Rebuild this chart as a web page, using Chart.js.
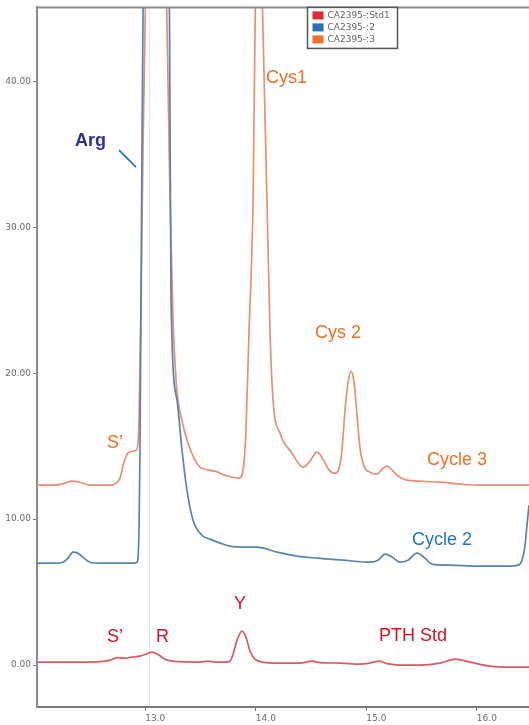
<!DOCTYPE html>
<html>
<head>
<meta charset="utf-8">
<script src="https://cdn.jsdelivr.net/npm/chart.js@4.4.1/dist/chart.umd.min.js"></script>
<style>
  html, body { margin: 0; padding: 0; background: #ffffff; }
  canvas { display: block; }
</style>
</head>
<body>
<canvas id="chrom" width="529" height="725"></canvas>
<script>
// Retention time (min) and detector signal for each run
const stdTime = [12.020, 12.228, 12.409, 12.590, 12.681, 12.753, 12.816, 12.880, 12.952, 13.006,
  13.061, 13.115, 13.178, 13.242, 13.314, 13.495, 13.567, 13.631, 13.721, 13.767,
  13.794, 13.830, 13.875, 13.911, 13.947, 13.993, 14.056, 14.219, 14.400, 14.509,
  14.581, 14.762, 14.943, 15.033, 15.115, 15.187, 15.305, 15.486, 15.667, 15.803,
  15.938, 16.119, 16.300, 16.472];
const stdSignal = [0.21, 0.21, 0.21, 0.24, 0.34, 0.51, 0.48, 0.55, 0.62, 0.75,
  0.89, 0.72, 0.41, 0.27, 0.24, 0.21, 0.27, 0.21, 0.21, 0.27,
  0.75, 1.71, 2.33, 1.92, 0.96, 0.41, 0.21, 0.14, 0.14, 0.27,
  0.17, 0.14, 0.07, 0.14, 0.27, 0.10, 0.00, 0.00, 0.14, 0.41,
  0.21, -0.07, -0.14, -0.14];

const cycle2Time = [12.020, 12.183, 12.255, 12.300, 12.346, 12.391, 12.445, 12.500, 12.590, 12.771,
  12.889, 12.925, 12.943, 12.952, 12.961, 12.970, 12.979, 12.993, 13.097, 13.201,
  13.219, 13.233, 13.287, 13.332, 13.377, 13.432, 13.513, 13.586, 13.676, 13.767,
  13.902, 14.011, 14.192, 14.373, 14.554, 14.789, 15.033, 15.106, 15.169, 15.233,
  15.305, 15.377, 15.459, 15.531, 15.594, 15.757, 16.029, 16.300, 16.373, 16.409,
  16.436, 16.454, 16.472];
const cycle2Signal = [6.99, 6.99, 7.05, 7.33, 7.74, 7.67, 7.33, 7.05, 6.99, 6.99,
  6.99, 7.05, 9.25, 14.73, 25.00, 35.27, 44.18, 50.0, 56.0, 50.0,
  44.18, 25.00, 18.15, 14.73, 11.99, 9.93, 8.90, 8.63, 8.36, 8.15,
  8.08, 8.08, 7.74, 7.47, 7.33, 7.19, 7.05, 7.19, 7.60, 7.40,
  7.05, 7.19, 7.67, 7.33, 6.92, 6.85, 6.78, 6.78, 6.85, 7.19,
  8.22, 9.59, 10.96];

const cycle3Time = [12.020, 12.183, 12.273, 12.337, 12.409, 12.500, 12.681, 12.735, 12.771, 12.807,
  12.843, 12.889, 12.925, 12.943, 12.961, 12.979, 12.997, 13.015, 13.097, 13.178,
  13.196, 13.224, 13.251, 13.278, 13.296, 13.341, 13.386, 13.441, 13.495, 13.631,
  13.721, 13.850, 13.884, 13.911, 13.938, 13.975, 13.993, 14.029, 14.065, 14.101,
  14.129, 14.156, 14.219, 14.328, 14.427, 14.490, 14.554, 14.608, 14.663, 14.717,
  14.753, 14.780, 14.807, 14.835, 14.862, 14.889, 14.916, 14.943, 14.979, 15.033,
  15.097, 15.142, 15.187, 15.233, 15.278, 15.368, 15.486, 15.667, 15.848, 16.029,
  16.210, 16.472];
const cycle3Signal = [12.33, 12.33, 12.47, 12.60, 12.53, 12.33, 12.33, 12.47, 12.81, 13.90,
  14.52, 14.66, 14.79, 16.78, 25.00, 35.27, 43.49, 50.0, 58.0, 50.0,
  44.18, 31.85, 23.63, 19.52, 18.15, 16.44, 15.21, 14.18, 13.56, 13.29,
  13.01, 12.81, 13.36, 16.10, 22.74, 31.85, 43.49, 55.0, 43.49, 31.85,
  22.74, 18.15, 15.89, 14.52, 13.56, 13.97, 14.59, 14.11, 13.36, 13.15,
  13.49, 14.73, 17.47, 19.38, 20.14, 19.38, 17.12, 14.86, 13.63, 13.22,
  13.08, 13.42, 13.63, 13.36, 13.01, 12.67, 12.60, 12.53, 12.40, 12.33,
  12.33, 12.33];

const seriesLabels = ['CA2395-:Std1', 'CA2395-:2', 'CA2395-:3'];
const xTicks = [13, 14, 15, 16];
const yTicks = [0, 10, 20, 30, 40];
const markerTime = 13.035;

// Peak and trace annotations: text, retention time, signal (left/baseline anchor)
const peakNotes = [
  { text: 'Arg',     x: 12.364, y: 35.56, color: '#2e3192', bold: true },
  { text: 'Cys1',    x: 14.092, y: 39.86, color: '#f36f21' },
  { text: 'Cys 2',   x: 14.536, y: 22.43, color: '#f36f21' },
  { text: 'S\u2019', x: 12.653, y: 14.84, color: '#f36f21' },
  { text: 'Cycle 3', x: 15.549, y: 13.68, color: '#f36f21' },
  { text: 'Cycle 2', x: 15.413, y: 8.21,  color: '#1e73d2' },
  { text: 'S\u2019', x: 12.653, y: 1.57,  color: '#d2141b' },
  { text: 'R',       x: 13.097, y: 1.57,  color: '#d2141b' },
  { text: 'Y',       x: 13.803, y: 3.83,  color: '#d2141b' },
  { text: 'PTH Std', x: 15.115, y: 1.64,  color: '#d2141b' }
];
// Pointer from the Arg label toward its peak
const argPointer = { x1: 12.762, y1: 35.28, x2: 12.916, y2: 34.12, color: '#1f6fc5' };

const lineColors = ['rgb(214,92,96)', 'rgb(90,131,178)', 'rgb(234,142,112)'];
const swatchColors = ['#e02b2b', '#2f6cb6', '#f0702c'];

function points(xs, ys) {
  return xs.map((x, i) => ({ x: x, y: ys[i] }));
}

const traces = [[stdTime, stdSignal], [cycle2Time, cycle2Signal], [cycle3Time, cycle3Signal]];

const datasets = traces.map((t, i) => ({
  label: seriesLabels[i],
  data: points(t[0], t[1]),
  borderColor: lineColors[i],
  backgroundColor: swatchColors[i],
  borderWidth: 1.7,
  pointRadius: 0,
  cubicInterpolationMode: 'monotone',
  fill: false,
  clip: 0
}));

// faint injection marker behind the traces
const markerLine = {
  id: 'markerLine',
  beforeDatasetsDraw(chart) {
    const ctx = chart.ctx, area = chart.chartArea;
    const px = Math.round(chart.scales.x.getPixelForValue(markerTime)) + 0.5;
    ctx.save();
    ctx.strokeStyle = 'rgba(175,200,222,0.45)';
    ctx.lineWidth = 1;
    ctx.beginPath();
    ctx.moveTo(px, area.top);
    ctx.lineTo(px, area.bottom);
    ctx.stroke();
    ctx.restore();
  }
};

const frameAndNotes = {
  id: 'frameAndNotes',
  afterDatasetsDraw(chart) {
    const ctx = chart.ctx;
    const area = chart.chartArea;
    const xs = chart.scales.x, ys = chart.scales.y;
    ctx.save();

    // top frame line
    ctx.strokeStyle = '#8c8c8c';
    ctx.lineWidth = 2;
    ctx.beginPath();
    ctx.moveTo(area.left - 1, area.top);
    ctx.lineTo(area.right, area.top);
    ctx.stroke();

    // annotations
    ctx.textAlign = 'left';
    ctx.textBaseline = 'alphabetic';
    peakNotes.forEach(n => {
      ctx.font = (n.bold ? 'bold ' : '') + '18px "Liberation Sans", Arial, sans-serif';
      ctx.fillStyle = n.color;
      ctx.fillText(n.text, xs.getPixelForValue(n.x), ys.getPixelForValue(n.y));
    });
    ctx.strokeStyle = argPointer.color;
    ctx.lineWidth = 1.6;
    ctx.beginPath();
    ctx.moveTo(xs.getPixelForValue(argPointer.x1), ys.getPixelForValue(argPointer.y1));
    ctx.lineTo(xs.getPixelForValue(argPointer.x2), ys.getPixelForValue(argPointer.y2));
    ctx.stroke();

    // legend box
    const bx = 307.5, by = area.top, bw = 90, bh = 41;
    ctx.fillStyle = '#ffffff';
    ctx.fillRect(bx, by, bw, bh);
    ctx.strokeStyle = '#555555';
    ctx.lineWidth = 1.5;
    ctx.strokeRect(bx, by, bw, bh);
    ctx.font = '9px "DejaVu Sans", sans-serif';
    ctx.textBaseline = 'middle';
    chart.data.datasets.forEach((ds, i) => {
      const cy = by + 8 + i * 12;
      ctx.fillStyle = ds.backgroundColor;
      ctx.fillRect(bx + 5, cy - 4, 11, 8);
      ctx.fillStyle = '#666666';
      ctx.fillText(ds.label, bx + 20, cy + 0.5);
    });
    ctx.restore();
  }
};

new Chart(document.getElementById('chrom'), {
  type: 'line',
  data: { datasets: datasets },
  options: {
    responsive: false,
    animation: false,
    devicePixelRatio: 1,
    layout: { padding: { top: 6, left: 0, right: 0, bottom: 0 } },
    plugins: { legend: { display: false }, tooltip: { enabled: false } },
    scales: {
      x: {
        type: 'linear',
        min: 12.02,
        max: 16.472,
        afterBuildTicks: s => { s.ticks = xTicks.map(v => ({ value: v })); },
        afterFit: s => { s.height = 18; },
        grid: { drawOnChartArea: false, drawTicks: true, tickLength: 4, tickColor: '#777777' },
        border: { color: '#7a7a7a', width: 2 },
        ticks: {
          align: 'start',
          maxRotation: 0,
          padding: 2,
          color: '#6b6b6b',
          font: { family: 'DejaVu Sans', size: 9 },
          callback: v => Number(v).toFixed(1)
        }
      },
      y: {
        type: 'linear',
        min: -2.87,
        max: 45.06,
        afterBuildTicks: s => { s.ticks = yTicks.map(v => ({ value: v })); },
        afterFit: s => { s.width = 37; },
        grid: { drawOnChartArea: false, drawTicks: true, tickLength: 4, tickColor: '#777777' },
        border: { color: '#8c8c8c', width: 2 },
        ticks: {
          padding: 2,
          color: '#6b6b6b',
          font: { family: 'DejaVu Sans', size: 9 },
          callback: v => Number(v).toFixed(2)
        }
      }
    }
  },
  plugins: [markerLine, frameAndNotes]
});
</script>
</body>
</html>
